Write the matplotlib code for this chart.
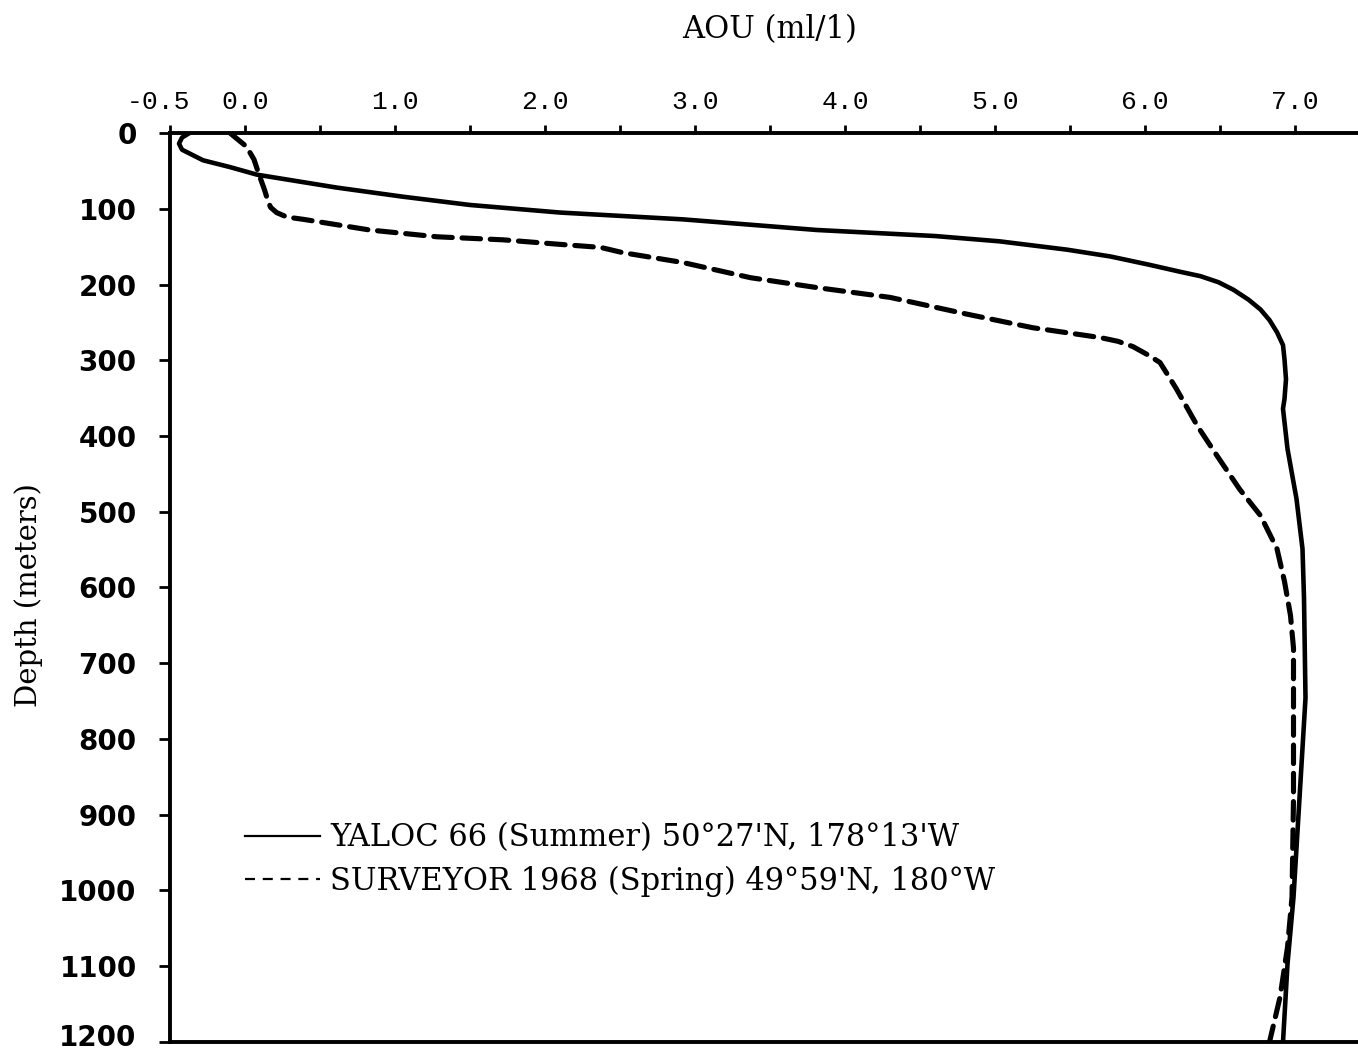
import numpy as np
import matplotlib
matplotlib.use("Agg")
import matplotlib.pyplot as plt
import matplotlib.transforms as mtransforms
from matplotlib.lines import Line2D

# -------- DATA -------- #
# YALOC 66 (summer) profile: depth (m) and AOU (ml/l)
yaloc_depth = [0, 6, 14, 22, 29, 36, 45, 55, 72, 84, 95, 105, 114, 128, 136,
               143, 154, 163, 174, 183, 189, 197, 207, 220, 233, 247, 263,
               280, 299, 325, 351, 364, 417, 483, 549, 614, 746, 878, 1009,
               1097, 1200]
yaloc_aou = [-0.37, -0.42, -0.44, -0.42, -0.35, -0.28, -0.10, 0.08, 0.61, 1.05,
             1.50, 2.10, 2.92, 3.81, 4.60, 5.03, 5.48, 5.77, 6.03, 6.23, 6.37,
             6.49, 6.59, 6.69, 6.77, 6.83, 6.88, 6.92, 6.93, 6.94, 6.93, 6.92,
             6.95, 7.01, 7.05, 7.06, 7.07, 7.03, 6.99, 6.95, 6.92]

# SURVEYOR 1968 (spring) profile
surv_depth = [0, 18, 35, 53, 75, 88, 98, 105, 111, 114, 128, 137, 141, 147,
              151, 158, 171, 191, 204, 217, 239, 257, 270, 275, 282, 293, 303,
              322, 338, 387, 426, 470, 505, 549, 592, 637, 680, 746, 878, 1009,
              1075, 1141, 1200]
surv_aou = [-0.10, 0.01, 0.06, 0.09, 0.13, 0.15, 0.17, 0.21, 0.28, 0.39, 0.83,
            1.28, 1.72, 2.10, 2.37, 2.52, 2.92, 3.37, 3.81, 4.30, 4.81, 5.25,
            5.70, 5.82, 5.92, 6.02, 6.10, 6.16, 6.21, 6.35, 6.48, 6.63, 6.77,
            6.88, 6.93, 6.97, 6.99, 6.99, 6.99, 6.98, 6.95, 6.90, 6.83]

x_ticks = [-0.5, 0.0, 1.0, 2.0, 3.0, 4.0, 5.0, 6.0, 7.0]
x_ticklabels = ["-0.5", "0.0", "1.0", "2.0", "3.0", "4.0", "5.0", "6.0", "7.0"]
x_minor = [0.5, 1.5, 2.5, 3.5, 4.5, 5.5, 6.5]
y_ticks = list(range(0, 1300, 100))

label_yaloc = "YALOC 66 (Summer) 50°27'N, 178°13'W"
label_surv = "SURVEYOR 1968 (Spring) 49°59'N, 180°W"

# -------- FIGURE -------- #
fig = plt.figure(figsize=(13.58, 10.54), dpi=100)
ax = fig.add_axes([0.1252, 0.0114, 0.8748, 0.8624])

ax.plot(yaloc_aou, yaloc_depth, color="black", lw=3.3, solid_capstyle="round",
        solid_joinstyle="round")
ax.plot(surv_aou, surv_depth, color="black", lw=3.7,
        linestyle=(0, (3.6, 1.9)), dash_capstyle="round")

ax.set_xlim(-0.5, 7.42)
ax.set_ylim(1200, 0)

# axis frame: left, top, bottom line; no right side
for side in ["left", "top", "bottom"]:
    ax.spines[side].set_linewidth(2.8)
ax.spines["right"].set_visible(False)

ax.xaxis.tick_top()
ax.set_xticks(x_ticks)
ax.set_xticklabels(x_ticklabels, family="Liberation Mono", fontsize=19)
ax.set_xticks(x_minor, minor=True)
ax.tick_params(axis="x", which="both", direction="out", length=6, width=2,
               pad=8, top=True, bottom=False)

ax.set_yticks(y_ticks)
ax.set_yticklabels([str(v) for v in y_ticks], family="DejaVu Sans",
                   fontweight="bold", fontsize=20)
ax.tick_params(axis="y", direction="out", length=8, width=2, pad=16)

# nudge the -0.5 label left and the bottom depth label up so they stay clear
xlabels = ax.get_xticklabels()
xlabels[0].set_transform(xlabels[0].get_transform() +
                         mtransforms.ScaledTranslation(-8 / 72, 0, fig.dpi_scale_trans))
ylabels = ax.get_yticklabels()
ylabels[-1].set_transform(ylabels[-1].get_transform() +
                          mtransforms.ScaledTranslation(0, 5 / 72, fig.dpi_scale_trans))

fig.text(0.567, 0.972, "AOU (ml/1)", family="DejaVu Serif", fontsize=22,
         ha="center", va="center")
fig.text(0.021, 0.435, "Depth (meters)", family="DejaVu Serif", fontsize=21,
         rotation=90, ha="center", va="center")

# -------- LEGEND -------- #
handles = [Line2D([], [], color="black", lw=1.6),
           Line2D([], [], color="black", lw=1.6, linestyle=(0, (4.5, 3.5)))]
ax.legend(handles, [label_yaloc, label_surv], loc="upper left",
          bbox_to_anchor=(0.04, 0.272), frameon=False,
          prop={"family": "DejaVu Serif", "size": 22},
          handlelength=2.45, handletextpad=0.33, labelspacing=0.40)

plt.savefig("out.png", dpi=100)
